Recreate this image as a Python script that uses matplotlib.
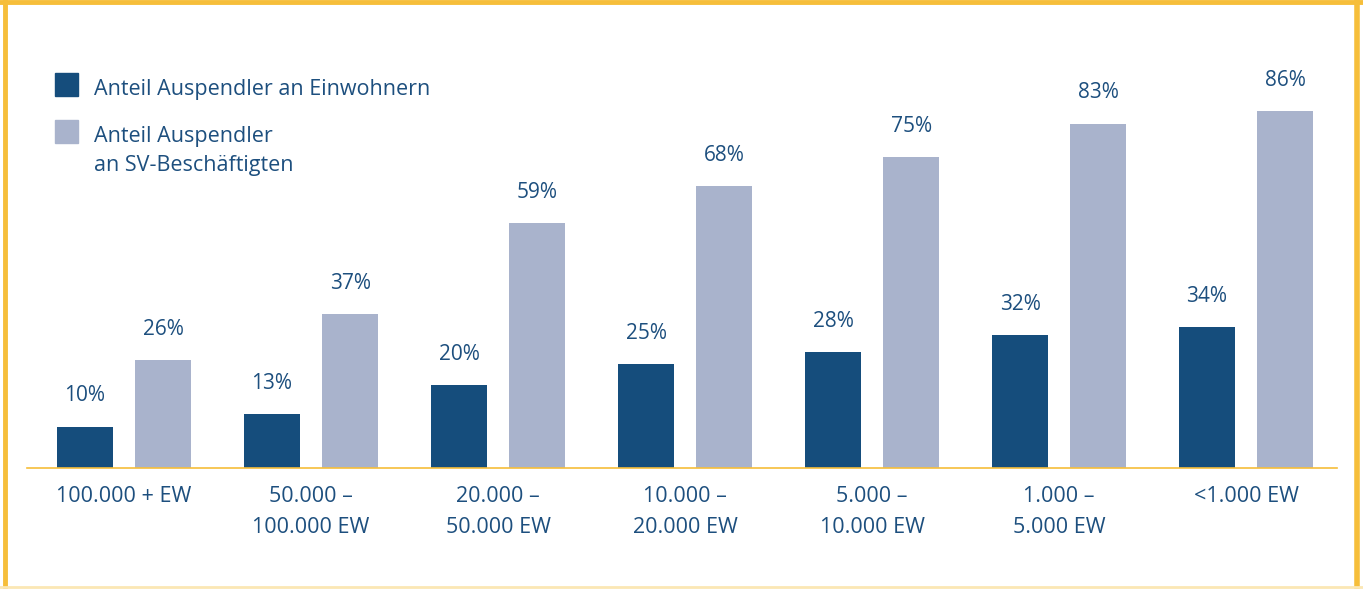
import matplotlib.pyplot as plt
from matplotlib.lines import Line2D
from matplotlib.patches import Rectangle
import numpy as np

categories = ["100.000 + EW", "50.000 –\n100.000 EW", "20.000 –\n50.000 EW",
              "10.000 –\n20.000 EW", "5.000 –\n10.000 EW", "1.000 –\n5.000 EW",
              "<1.000 EW"]
einwohner = [10, 13, 20, 25, 28, 32, 34]
sv_beschaeftigte = [26, 37, 59, 68, 75, 83, 86]
series_names = ["Anteil Auspendler an Einwohnern",
                "Anteil Auspendler\nan SV-Beschäftigten"]

dark = "#154D7C"
light = "#A9B3CC"
text_col = "#1D4F7E"
yellow = "#F6BE3A"

plt.rcParams['font.family'] = ['Open Sans', 'DejaVu Sans']

W, H = 1363, 589
fig = plt.figure(figsize=(W / 100, H / 100), dpi=100)

# axes placed in pixel terms: baseline at y=468, 4.15 px per percent
left_px, right_px = 27, 1337
base_px, top_px = 468, 468 - 415
ax = fig.add_axes([left_px / W, (H - base_px) / H,
                   (right_px - left_px) / W, (base_px - top_px) / H])

x = np.arange(len(categories))
width = 0.30
off = 0.209
b1 = ax.bar(x - off, einwohner, width, color=dark)
b2 = ax.bar(x + off, sv_beschaeftigte, width, color=light)

for bars, vals in ((b1, einwohner), (b2, sv_beschaeftigte)):
    for bar, v in zip(bars, vals):
        ax.annotate(f"{v}%", (bar.get_x() + bar.get_width() / 2, v),
                    xytext=(0, 22), textcoords="offset points",
                    ha="center", va="center", fontsize=15, color=text_col)

ax.set_xlim(-0.519, 6.486)
ax.set_ylim(0, 100)
ax.set_xticks(x)
ax.set_xticklabels(categories, fontsize=15.5, color=text_col, linespacing=1.65)
ax.tick_params(axis="x", length=0, pad=13)
ax.set_yticks([])
for s in ["top", "right", "left"]:
    ax.spines[s].set_visible(False)
ax.spines["bottom"].set_color(yellow)
ax.spines["bottom"].set_linewidth(1.2)
ax.set_facecolor("none")

# legend, built by hand so the square sits next to the first text line
for (top, col, name) in ((73, dark, series_names[0]), (120, light, series_names[1])):
    fig.add_artist(Rectangle((55 / W, 1 - (top + 23) / H), 23 / W, 23 / H,
                             color=col, transform=fig.transFigure))
    for k, line in enumerate(name.split("\n")):
        base = top + 22 + k * 29
        fig.text(94 / W, 1 - base / H, line, fontsize=15.5, color=text_col,
                 va="baseline", ha="left")

# yellow frame around the figure
fig.add_artist(Line2D([0, 1], [1 - 1.5 / H, 1 - 1.5 / H], color=yellow, lw=3.5,
                      transform=fig.transFigure))
fig.add_artist(Line2D([4.5 / W, 4.5 / W], [0, 1], color=yellow, lw=3.5,
                      transform=fig.transFigure))
fig.add_artist(Line2D([1 - 6 / W, 1 - 6 / W], [0, 1], color=yellow, lw=4,
                      transform=fig.transFigure))
fig.add_artist(Line2D([0, 1], [2 / H, 2 / H], color="#FBE7B4", lw=2,
                      transform=fig.transFigure))

fig.savefig("out.png", dpi=100)
